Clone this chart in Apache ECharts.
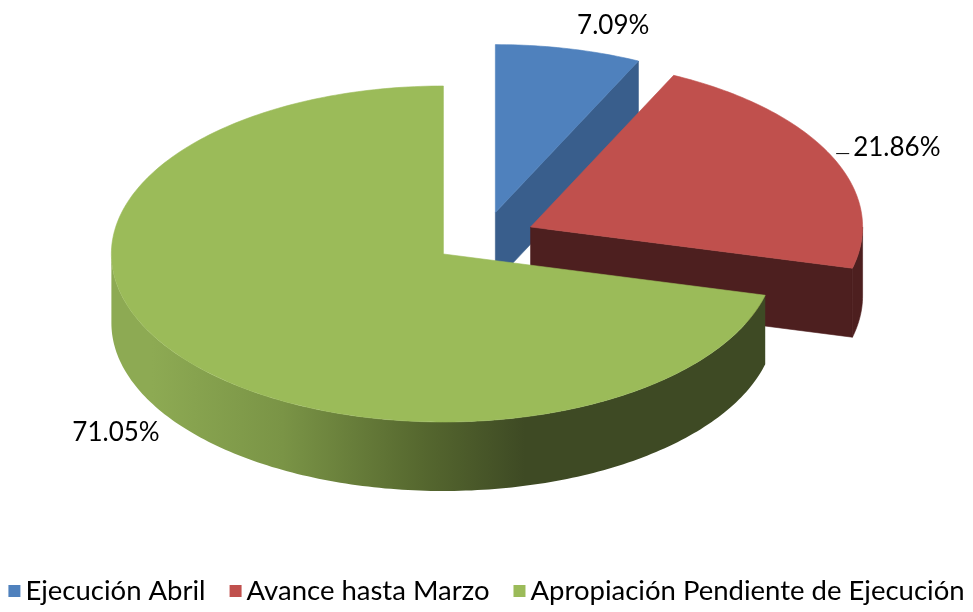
<!DOCTYPE html>
<html>
<head>
<meta charset="utf-8">
<script src="https://cdn.jsdelivr.net/npm/echarts@6/dist/echarts.min.js"></script>
<style>
  html, body { margin: 0; padding: 0; background: #fff; }
  #chart { width: 973px; height: 612px; }
</style>
</head>
<body>
<div id="chart"></div>
<script>
// data
const categories = ['Ejecución Abril', 'Avance hasta Marzo', 'Apropiación Pendiente de Ejecución'];
const values = [7.09, 21.86, 71.05];
const valueLabels = ['7.09%', '21.86%', '71.05%'];

// look of the 3d pie
const topColors = ['#4F81BD', '#C0504D', '#9BBB59'];
const wallColors = ['#395E8C', '#4D1F1F', '#3E4A24'];
const pie = { cx: 484, cy: 238, rx: 332, ry: 168, depth: 69, explode: 0.155 };
const font = '26px Lato';

const total = values.reduce((a, b) => a + b, 0);

function pt(c, a, dy) {
  return [c[0] + pie.rx * Math.sin(a), c[1] - pie.ry * Math.cos(a) + (dy || 0)];
}

function arc(c, from, to, dy) {
  const pts = [];
  const n = Math.max(2, Math.ceil((to - from) / (Math.PI / 180)));
  for (let k = 0; k <= n; k++) pts.push(pt(c, from + (to - from) * k / n, dy));
  return pts;
}

function sideFill(i) {
  if (i !== 2) return wallColors[i];
  return {
    type: 'linear', global: true,
    x: pie.cx - pie.rx, y: 0, x2: 525, y2: 0,
    colorStops: [
      { offset: 0, color: '#8DAA53' },
      { offset: 0.35, color: '#7A9446' },
      { offset: 0.72, color: '#56682F' },
      { offset: 1, color: '#3E4A24' }
    ]
  };
}

function renderSlice(i) {
  return function (params, api) {
    let cum = 0;
    for (let k = 0; k < i; k++) cum += values[k];
    const a0 = 2 * Math.PI * cum / total;
    const a1 = 2 * Math.PI * (cum + values[i]) / total;
    const m = (a0 + a1) / 2;
    const c = [pie.cx + pie.explode * pie.rx * Math.sin(m),
               pie.cy - pie.explode * pie.ry * Math.cos(m)];
    const d = pie.depth;
    const children = [];
    const poly = (points, fill) => children.push({
      type: 'polygon', shape: { points },
      style: { fill, stroke: typeof fill === 'string' ? fill : null, lineWidth: 0.6 }
    });

    // start / end walls, only when facing us
    if (Math.sin(a0) < -1e-6) {
      const p = pt(c, a0);
      poly([c, p, [p[0], p[1] + d], [c[0], c[1] + d]], wallColors[i]);
    }
    if (Math.sin(a1) > 1e-6) {
      const p = pt(c, a1);
      poly([c, p, [p[0], p[1] + d], [c[0], c[1] + d]], wallColors[i]);
    }
    // front part of the rim
    const s = Math.max(a0, Math.PI / 2);
    const e = Math.min(a1, Math.PI * 1.5);
    if (e > s) {
      const upper = arc(c, s, e, 0);
      const lower = arc(c, s, e, d).reverse();
      poly(upper.concat(lower), sideFill(i));
    }
    // top face
    poly([c].concat(arc(c, a0, a1, 0)), topColors[i]);

    // label
    const sn = Math.sin(m), cs = Math.cos(m);
    const front = cs < 0 ? d : 0;
    const rim = [c[0] + pie.rx * sn, c[1] - pie.ry * cs + front];
    const anc = [c[0] + 1.06 * pie.rx * sn, c[1] - 1.06 * pie.ry * cs + front];
    const align = sn > 0.1 ? 'left' : (sn < -0.1 ? 'right' : 'center');
    const valign = cs > 0.7 ? 'bottom' : (cs < -0.7 ? 'top' : 'middle');
    const gap = align === 'left' ? 4 : (align === 'right' ? -6 : 0);
    const lift = Math.abs(sn) > 0.85 ? -4 : 0;
    if (Math.abs(sn) > 0.85) {
      children.push({
        type: 'line',
        shape: { x1: rim[0] + 5, y1: rim[1] - 2, x2: anc[0] + gap - 4, y2: rim[1] - 2 },
        style: { stroke: '#000', lineWidth: 1 }
      });
    }
    children.push({
      type: 'text', x: anc[0] + gap, y: anc[1] + lift,
      style: { text: valueLabels[i], font, fill: '#000', align, verticalAlign: valign }
    });
    return { type: 'group', children };
  };
}

const chart = echarts.init(document.getElementById('chart'));
chart.setOption({
  animation: false,
  legend: {
    data: categories,
    top: 572,
    left: 'center',
    icon: 'rect',
    itemWidth: 12,
    itemHeight: 12,
    itemGap: 24,
    selectedMode: false,
    textStyle: { fontSize: 27.5, fontFamily: 'Lato', color: '#000' }
  },
  series: categories.map((name, i) => ({
    type: 'custom',
    name,
    coordinateSystem: 'none',
    silent: true,
    itemStyle: { color: topColors[i] },
    data: [values[i]],
    renderItem: renderSlice(i)
  }))
});
</script>
</body>
</html>
